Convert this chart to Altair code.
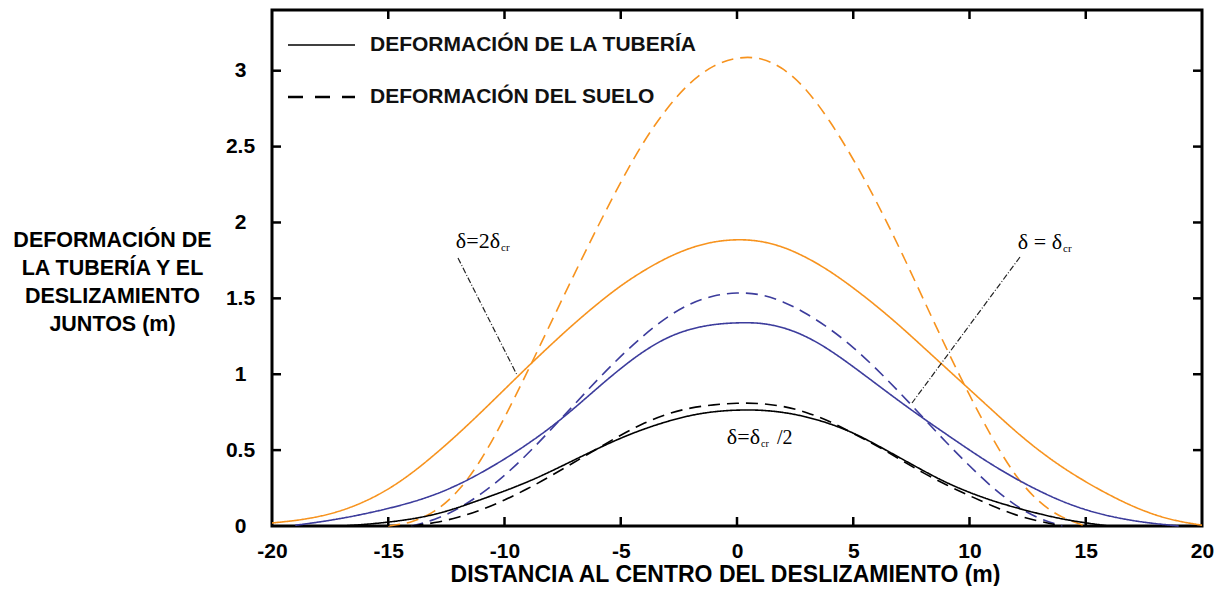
import altair as alt
import pandas as pd

# ---------------- data ----------------
pipe_2cr_x = list(range(-20, 21))
pipe_2cr_y = [0.02, 0.035, 0.06, 0.10, 0.16, 0.24, 0.345, 0.47, 0.605, 0.75,
              0.90, 1.05, 1.195, 1.335, 1.465, 1.585, 1.685, 1.77, 1.835, 1.875,
              1.89,
              1.88, 1.84, 1.77, 1.68, 1.57, 1.45, 1.32, 1.18, 1.04, 0.90,
              0.76, 0.62, 0.495, 0.385, 0.29, 0.205, 0.13, 0.07, 0.03, 0.005]

soil_2cr_x = list(range(-15, 16))
soil_2cr_y = [0.0, 0.02, 0.09, 0.22, 0.43, 0.71, 1.02, 1.34, 1.66, 1.97,
              2.27, 2.54, 2.76, 2.93, 3.04, 3.09, 3.09, 3.02, 2.88, 2.67,
              2.42, 2.14, 1.83, 1.50, 1.17, 0.86, 0.57, 0.32, 0.15, 0.05, 0.0]

pipe_cr_x = list(range(-19, 20))
pipe_cr_y = [0.005, 0.025, 0.05, 0.08, 0.115, 0.155, 0.205, 0.27, 0.35, 0.44,
             0.54, 0.65, 0.775, 0.91, 1.04, 1.155, 1.245, 1.30, 1.33, 1.34,
             1.34, 1.31, 1.25, 1.16, 1.05, 0.935, 0.82, 0.71, 0.605, 0.50,
             0.40, 0.31, 0.23, 0.16, 0.105, 0.065, 0.035, 0.015, 0.0]

soil_cr_x = list(range(-14, 15))
soil_cr_y = [0.0, 0.04, 0.11, 0.21, 0.33, 0.475, 0.635, 0.80, 0.965, 1.12,
             1.26, 1.38, 1.47, 1.52, 1.54, 1.53, 1.48, 1.40, 1.30, 1.18,
             1.035, 0.88, 0.715, 0.55, 0.395, 0.25, 0.13, 0.045, 0.0]

pipe_half_x = list(range(-17, 17))
pipe_half_y = [0.0, 0.01, 0.025, 0.045, 0.075, 0.12, 0.175, 0.23, 0.29, 0.36,
               0.435, 0.51, 0.58, 0.64, 0.69, 0.73, 0.755, 0.765, 0.765, 0.75,
               0.72, 0.675, 0.615, 0.535, 0.45, 0.365, 0.285, 0.22, 0.165, 0.12,
               0.08, 0.045, 0.02, 0.0]

soil_half_x = list(range(-14, 15))
soil_half_y = [0.0, 0.02, 0.055, 0.105, 0.17, 0.245, 0.33, 0.42, 0.51, 0.60,
               0.68, 0.74, 0.78, 0.80, 0.81, 0.81, 0.79, 0.75, 0.69, 0.61,
               0.53, 0.44, 0.35, 0.27, 0.20, 0.13, 0.07, 0.03, 0.0]

x_ticks = [-20, -15, -10, -5, 0, 5, 10, 15, 20]
x_inner_ticks = [-15, -10, -5, 0, 5, 10, 15]
y_ticks = [0, 0.5, 1, 1.5, 2, 2.5, 3]
y_inner_ticks = [0.5, 1, 1.5, 2, 2.5, 3]

series_names = ["2cr", "cr", "half"]
series_colors = ["#F7931E", "#3C3C9C", "#000000"]
kinds = ["tuberia", "suelo"]

# ---------------- table ----------------
rows = []
for name, kind, xs, ys in [
    ("2cr", "tuberia", pipe_2cr_x, pipe_2cr_y),
    ("2cr", "suelo", soil_2cr_x, soil_2cr_y),
    ("cr", "tuberia", pipe_cr_x, pipe_cr_y),
    ("cr", "suelo", soil_cr_x, soil_cr_y),
    ("half", "tuberia", pipe_half_x, pipe_half_y),
    ("half", "suelo", soil_half_x, soil_half_y),
]:
    for xv, yv in zip(xs, ys):
        rows.append({"x": xv, "y": yv, "serie": name, "tipo": kind,
                     "key": name + "_" + kind})
df = pd.DataFrame(rows)

FONT = "Liberation Sans"
SERIF = "Liberation Serif"
W, H = 930, 516

xscale = alt.Scale(domain=[-20, 20], nice=False, zero=False)
yscale = alt.Scale(domain=[0, 3.4], nice=False, zero=False)

x_axis = alt.Axis(values=x_ticks, labelExpr="'' + datum.value",
                  ticks=False, domain=False, grid=False, labelFlush=False,
                  labelFont=FONT, labelFontSize=21, labelFontWeight="bold",
                  labelPadding=14, labelColor="#000",
                  title="DISTANCIA AL CENTRO DEL DESLIZAMIENTO (m)",
                  titleFont=FONT, titleFontSize=23, titleFontWeight="bold",
                  titleColor="#000", titleX=453, titleY=55,
                  titleBaseline="alphabetic", titleAnchor="middle",
                  titleAlign="center")
y_axis = alt.Axis(values=y_ticks, format="~g", ticks=False, domain=False,
                  grid=False, labelFont=FONT, labelFontSize=21,
                  labelFontWeight="bold", labelPadding=32, labelAlign="center",
                  labelColor="#000",
                  title=["DEFORMACIÓN DE", "LA TUBERÍA Y EL",
                         "DESLIZAMIENTO", "JUNTOS (m)"],
                  titleAngle=0, titleAlign="center", titleBaseline="top",
                  titleX=-160, titleY=219, titleLineHeight=28,
                  titleFont=FONT, titleFontSize=21.5, titleFontWeight="bold",
                  titleColor="#000")

lines = alt.Chart(df).mark_line(strokeWidth=1.6, interpolate="basis").encode(
    x=alt.X("x:Q", scale=xscale, axis=x_axis),
    y=alt.Y("y:Q", scale=yscale, axis=y_axis),
    color=alt.Color("serie:N", scale=alt.Scale(domain=series_names, range=series_colors),
                    legend=None),
    strokeDash=alt.StrokeDash("tipo:N",
                              scale=alt.Scale(domain=kinds, range=[[1, 0], [12, 7]]),
                              legend=None),
    detail="key:N",
)

xt = pd.DataFrame({"x": x_inner_ticks})
yt = pd.DataFrame({"y": y_inner_ticks})
tick_bottom = alt.Chart(xt).mark_rule(color="black", strokeWidth=2.5).encode(
    x=alt.X("x:Q", scale=xscale), y=alt.value(H), y2=alt.value(H - 9))
tick_top = alt.Chart(xt).mark_rule(color="black", strokeWidth=2.5).encode(
    x=alt.X("x:Q", scale=xscale), y=alt.value(0), y2=alt.value(9))
tick_left = alt.Chart(yt).mark_rule(color="black", strokeWidth=2.5).encode(
    y=alt.Y("y:Q", scale=yscale), x=alt.value(0), x2=alt.value(9))
tick_right = alt.Chart(yt).mark_rule(color="black", strokeWidth=2.5).encode(
    y=alt.Y("y:Q", scale=yscale), x=alt.value(W), x2=alt.value(W - 9))

one = pd.DataFrame({"a": [0]})

# legend drawn by hand
leg_solid = alt.Chart(one).mark_rule(color="black", strokeWidth=1.6).encode(
    x=alt.value(16), x2=alt.value(83), y=alt.value(35))
leg_dash = alt.Chart(one).mark_rule(
    color="black", strokeWidth=2.5, strokeDash=[15, 12]).encode(
    x=alt.value(16), x2=alt.value(83), y=alt.value(87))
leg_t1 = alt.Chart(one).mark_text(
    font=FONT, fontSize=21, fontWeight="bold", align="left", baseline="middle",
    color="#111").encode(x=alt.value(98), y=alt.value(35),
                         text=alt.value("DEFORMACIÓN DE LA TUBERÍA"))
leg_t2 = alt.Chart(one).mark_text(
    font=FONT, fontSize=21, fontWeight="bold", align="left", baseline="middle",
    color="#111").encode(x=alt.value(98), y=alt.value(87),
                         text=alt.value("DEFORMACIÓN DEL SUELO"))

# annotations
def txt(px, py, s, size=22, align="left"):
    return alt.Chart(one).mark_text(
        font=SERIF, fontSize=size, align=align, baseline="alphabetic",
        color="#000").encode(x=alt.value(px), y=alt.value(py), text=alt.value(s))

def leader(x1, y1, x2, y2):
    return alt.Chart(one).mark_rule(
        color="#222", strokeWidth=1.2, strokeDash=[6, 2, 1, 2]).encode(
        x=alt.value(x1), y=alt.value(y1), x2=alt.value(x2), y2=alt.value(y2))

ann = [
    txt(228, 238, "δ=2δ", align="right"), txt(229, 241, "cr", size=11),
    leader(186, 248, 245, 365),
    txt(790, 239, "δ = δ", align="right"), txt(791, 242, "cr", size=11),
    leader(748, 247, 640, 393),
    txt(488, 434, "δ=δ", align="right"), txt(489, 437, "cr", size=10),
    txt(505, 434, "/2", size=20),
]

chart = alt.layer(
    lines, tick_bottom, tick_top, tick_left, tick_right,
    leg_solid, leg_dash, leg_t1, leg_t2, *ann
).properties(
    width=W, height=H,
    autosize="none",
    padding={"left": 264, "top": 2, "right": 20, "bottom": 60},
).configure(background="white").configure_view(stroke="black", strokeWidth=3)

chart.save("out.html", embed_options={"renderer": "svg", "actions": False})
